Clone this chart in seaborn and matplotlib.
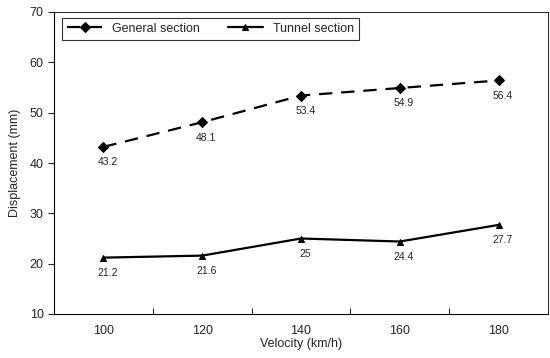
import matplotlib
matplotlib.use("Agg")
import matplotlib.pyplot as plt
import seaborn as sns
import pandas as pd

velocity = ["100", "120", "140", "160", "180"]
general = [43.2, 48.1, 53.4, 54.9, 56.4]
tunnel = [21.2, 21.6, 25, 24.4, 27.7]
series_names = ["General section", "Tunnel section"]

df = pd.DataFrame({
    "Velocity": velocity * 2,
    "Displacement": general + tunnel,
    "Section": [series_names[0]] * len(velocity) + [series_names[1]] * len(velocity),
})

sns.set_style("white")
plt.rcParams["font.family"] = ["Liberation Sans", "DejaVu Sans"]

fig = plt.figure(figsize=(5.5, 3.58), dpi=100)
ax = fig.add_axes([54 / 550, 1 - 314 / 358, 494 / 550, 302 / 358])

sns.lineplot(
    data=df, x="Velocity", y="Displacement", hue="Section", style="Section",
    markers={series_names[0]: "D", series_names[1]: "^"},
    dashes={series_names[0]: (6, 4), series_names[1]: ""},
    palette={series_names[0]: "black", series_names[1]: "black"},
    linewidth=1.6, markersize=5, markeredgecolor="black", ax=ax, sort=False,
)

# value labels beneath each point
for vals in (general, tunnel):
    for i, v in enumerate(vals):
        ax.annotate(f"{v:g}", (i, v), xytext=(3, -11), textcoords="offset points",
                    ha="center", va="center", fontsize=7.5)

ax.set_xlim(-0.5, len(velocity) - 0.5)
ax.set_ylim(10, 70)
ax.set_yticks(range(10, 71, 10))
ax.set_xticks(range(len(velocity)))
ax.set_xticklabels(velocity)
ax.set_xticks([i + 0.5 for i in range(len(velocity) - 1)], minor=True)
ax.tick_params(axis="x", which="major", length=0, labelsize=9, pad=8)
ax.tick_params(axis="x", which="minor", length=4, direction="in", width=0.8, bottom=True)
ax.tick_params(axis="y", length=4, direction="out", width=0.8, labelsize=9, left=True)

for side, sp in ax.spines.items():
    sp.set_visible(True)
    sp.set_color("black")
    sp.set_linewidth(0.8 if side in ("left", "bottom") else 0.6)

ax.set_xlabel("Velocity (km/h)", fontsize=9, labelpad=1)
ax.set_ylabel("Displacement (mm)", fontsize=9, labelpad=6)

leg = ax.legend(loc="upper left", ncol=2, frameon=True, fancybox=False,
                edgecolor="black", fontsize=9, handlelength=2.8,
                bbox_to_anchor=(0.012, 0.99), borderaxespad=0.2, columnspacing=2.2)
leg.get_frame().set_linewidth(0.8)

fig.savefig("out.png", dpi=100, facecolor="white")
